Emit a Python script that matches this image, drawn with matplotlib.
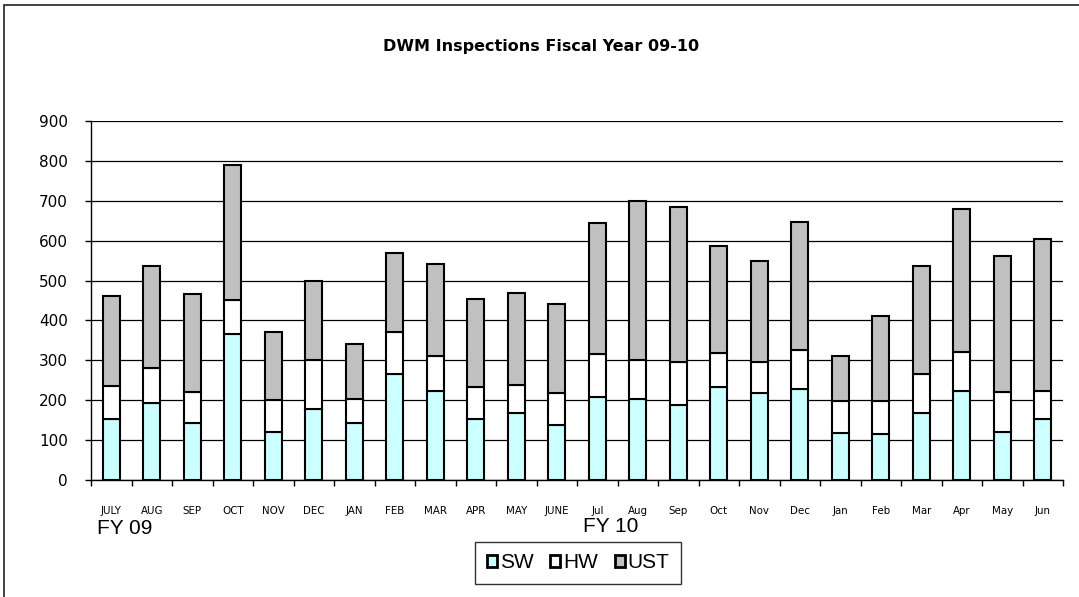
import numpy as np
import matplotlib
matplotlib.use("Agg")
from matplotlib import pyplot as plt
from matplotlib.patches import Rectangle

plt.rcParams['font.family'] = ['DejaVu Sans']

months = ['JULY', 'AUG', 'SEP', 'OCT', 'NOV', 'DEC', 'JAN', 'FEB', 'MAR', 'APR', 'MAY', 'JUNE',
          'Jul', 'Aug', 'Sep', 'Oct', 'Nov', 'Dec', 'Jan', 'Feb', 'Mar', 'Apr', 'May', 'Jun']

# values
sw = [153, 192, 144, 365, 121, 179, 142, 265, 224, 154, 169, 138,
      208, 204, 189, 234, 217, 228, 119, 115, 167, 224, 121, 154]
hw = [83, 88, 77, 87, 79, 123, 60, 106, 87, 78, 68, 81,
      107, 98, 106, 84, 78, 98, 80, 84, 98, 96, 100, 70]
ust = [226, 256, 245, 337, 172, 198, 140, 197, 231, 223, 231, 223,
       329, 397, 390, 269, 253, 322, 112, 211, 271, 359, 340, 379]

series_names = ['SW', 'HW', 'UST']
series_colors = ['#CCFFFF', '#FFFFFF', '#C0C0C0']

fig = plt.figure(figsize=(10.79, 5.97), dpi=100)
ax = fig.add_axes([91/1079, 1 - 480/597, (1063 - 91)/1079, (480 - 121)/597])

x = np.arange(len(months))
bottom = np.zeros(len(months))
for name, vals, col in zip(series_names, [sw, hw, ust], series_colors):
    ax.bar(x, vals, 0.42, bottom=bottom, color=col, edgecolor='black',
           linewidth=1.5, label=name, zorder=3)
    bottom += np.array(vals)

ax.set_xlim(-0.5, len(months) - 0.5)
ax.set_ylim(0, 900)
ax.set_yticks(np.arange(0, 901, 100))
ax.yaxis.grid(True, color='black', linewidth=0.9, zorder=0)
ax.tick_params(axis='y', direction='out', length=4.5, width=1, labelsize=11, pad=12)

ax.set_xticks(x)
ax.set_xticklabels(months, fontsize=7.4)
ax.set_xticks(np.arange(-0.5, len(months)), minor=True)
ax.tick_params(axis='x', which='major', length=0, pad=19)
ax.tick_params(axis='x', which='minor', direction='out', length=4, width=1)

for s in ['top', 'right']:
    ax.spines[s].set_visible(False)
for s in ['left', 'bottom']:
    ax.spines[s].set_linewidth(1)

fy_font = ['Liberation Sans', 'DejaVu Sans']
ax.text(-0.35, -0.135, 'FY 09', transform=ax.get_xaxis_transform(), fontsize=15,
        ha='left', va='center', family=fy_font)
ax.text(11.66, -0.1035, 'FY 10', transform=ax.get_xaxis_transform(), fontsize=15,
        ha='left', va='top', family=fy_font)

fig.text(541/1079, 1 - 47/597, 'DWM Inspections Fiscal Year 09-10', ha='center',
         va='center', fontsize=11.5, fontweight='bold')

leg = fig.legend(loc='center', bbox_to_anchor=(578/1079, 1 - 563/597), ncol=3,
                 prop={'family': fy_font, 'size': 15}, frameon=True, fancybox=False,
                 shadow=False, handlelength=0.5, handleheight=0.5, handletextpad=0.12,
                 columnspacing=0.8, borderpad=0.55, borderaxespad=0)
leg.get_frame().set_edgecolor('black')
leg.get_frame().set_linewidth(1)
for h in leg.legend_handles:
    h.set_linewidth(2)

fig.patches.append(Rectangle((4/1079, -0.1), 1.2, 0.1 + 1 - 5/597, transform=fig.transFigure,
                             fill=False, edgecolor='#222222', linewidth=1.2))

fig.savefig('out.png', dpi=100)
